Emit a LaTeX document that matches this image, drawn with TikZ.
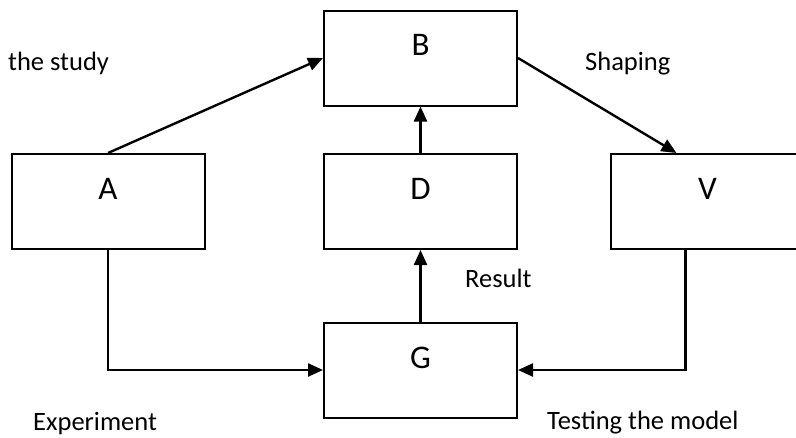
\documentclass[tikz,border=0pt]{standalone}
\usepackage{fontspec}
\setmainfont{Carlito}
\usetikzlibrary{arrows.meta}
\begin{document}
\begin{tikzpicture}[x=1pt,y=-1pt,
  blockbox/.style={draw=black,line width=2pt,minimum width=193pt,minimum height=95pt,inner sep=0pt},
  boxname/.style={font=\fontsize{33}{36}\selectfont},
  caption/.style={font=\fontsize{26.5}{30}\selectfont,inner sep=0pt},
  link/.style={line width=2.4pt,-{Triangle[length=15pt,width=13pt]}}]
\useasboundingbox (0,0) rectangle (796,437);
% blocks
\node[blockbox] (B) at (420.5,58) {};
\node[blockbox] (A) at (108,201.5) {};
\node[blockbox] (D) at (420.5,201.5) {};
\node[blockbox] (V) at (707.5,201.5) {};
\node[blockbox] (G) at (420.5,370) {};
% block letters, set in the upper part of each block
\node[boxname] (Bt) at (420.5,45) {B};
\node[boxname] (At) at (108,189) {A};
\node[boxname] (Dt) at (420.5,189) {D};
\node[boxname] (Vt) at (707.5,189) {V};
\node[boxname] (Gt) at (420.5,358) {G};
% captions
\node[caption,anchor=west] (l1) at (8,63) {the study};
\node[caption,anchor=west] (l2) at (585,64) {Shaping};
\node[caption,anchor=west] (l3) at (465,278) {Result};
\node[caption,anchor=west] (l4) at (33,424) {Experiment};
\node[caption,anchor=west] (l5) at (547,423) {Testing the model};
% connectors
\draw[link] (A.north) -- (B.west);
\draw[link] (B.east) -- ([xshift=-31pt]V.north);
\draw[link] (D.north) -- (B.south);
\draw[link] (G.north) -- (D.south);
\draw[link] (A.south) |- (G.west);
\draw[link] ([xshift=-22pt]V.south) |- (G.east);
\end{tikzpicture}
\end{document}
